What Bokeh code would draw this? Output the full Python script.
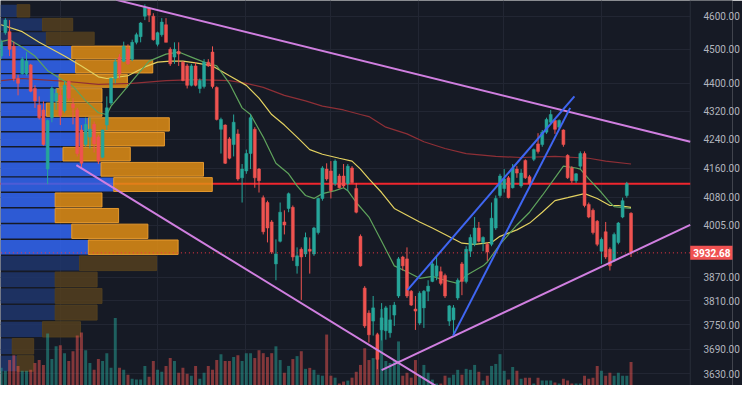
from bokeh.plotting import figure
from bokeh.models import (Range1d, FixedTicker, PrintfTickFormatter, Span, Label,
                          Grid, LinearScale, ColumnDataSource, BoxAnnotation)
from bokeh.embed import file_html
from bokeh.resources import INLINE

# ---------------- data ----------------
opens = [4480,4550,4553,4509,4414,4428,4428,4454,4385,4337,
         4323,4157,4301,4349,4365,4321,4406,4340,4323,4266,
         4225,4246,4282,4246,4190,4280,4343,4414,4477,4465,
         4500,4471,4521,4538,4600,4624,4600,4515,4544,4574,
         4500,4477,4494,4462,4451,4394,4451,4385,4391,4462,
         4492,4388,4268,4280,4241,4225,4255,4133,4152,4200,
         4268,4157,4079,4066,4014,3904,3963,4014,4050,4053,
         3899,3942,3930,3942,3930,3986,4077,4157,4152,4117,
         4138,4138,4117,4160,4104,3976,3842,3779,3759,3725,
         3737,3735,3730,3774,3822,3922,3917,3834,3789,3754,
         3792,3834,3859,3872,3884,3874,3759,3762,3817,3904,
         3859,3937,3955,3998,3960,3955,3955,3998,4085,4104,
         4133,4106,4157,4111,4181,4136,4184,4227,4225,4260,
         4288,4293,4274,4266,4195,4160,4125,4165,4200,4061,
         4045,4016,3937,3988,3942,3912,3960,4027,4085,4037]
highs = [4529,4594,4588,4523,4425,4477,4492,4457,4394,4362,
         4348,4296,4391,4385,4388,4406,4408,4357,4329,4280,
         4301,4301,4290,4252,4268,4362,4417,4471,4486,4523,
         4515,4529,4550,4582,4636,4627,4609,4553,4594,4594,
         4506,4521,4521,4465,4457,4457,4462,4414,4471,4471,
         4509,4391,4301,4282,4246,4310,4268,4171,4211,4310,
         4274,4160,4085,4071,4019,3968,4066,4045,4093,4058,
         3947,3947,3986,3973,4001,4079,4165,4173,4179,4184,
         4144,4171,4171,4165,4119,3981,3847,3786,3822,3730,
         3804,3797,3799,3807,3922,3925,3947,3837,3822,3834,
         3837,3862,3912,3922,3897,3879,3799,3799,3867,3909,
         3950,3981,4027,4014,3976,3960,4066,4085,4144,4157,
         4138,4171,4165,4157,4184,4141,4214,4257,4266,4301,
         4323,4296,4296,4268,4198,4165,4146,4206,4206,4066,
         4050,4019,3973,4014,3947,3986,4014,4079,4122,4040]
lows = [4471,4544,4480,4406,4365,4425,4422,4374,4329,4296,
        4222,4116,4288,4323,4280,4315,4349,4282,4192,4160,
        4219,4214,4203,4171,4187,4266,4337,4400,4414,4462,
        4454,4465,4515,4521,4588,4582,4526,4509,4538,4521,
        4451,4457,4451,4406,4385,4391,4391,4371,4385,4448,
        4385,4293,4200,4171,4184,4192,4125,4066,4144,4157,
        4106,4093,3981,3960,3930,3862,3960,3981,4040,3912,
        3879,3812,3922,3879,3925,3981,4071,4125,4077,4111,
        4104,4106,4098,4117,4037,3897,3742,3706,3723,3641,
        3711,3713,3718,3747,3817,3887,3817,3797,3737,3749,
        3742,3809,3857,3862,3849,3817,3747,3723,3812,3824,
        3854,3922,3950,3960,3937,3912,3950,3993,4079,4093,
        4077,4104,4133,4106,4130,4111,4179,4200,4219,4255,
        4282,4255,4268,4219,4130,4119,4119,4157,4053,4024,
        3981,3950,3904,3917,3887,3909,3955,4024,4079,3922]
closes = [4521,4588,4500,4414,4400,4471,4465,4377,4349,4301,
          4225,4293,4385,4371,4307,4394,4357,4329,4200,4173,
          4282,4268,4227,4179,4266,4329,4414,4463,4428,4509,
          4457,4521,4544,4579,4627,4603,4529,4550,4582,4521,
          4457,4500,4486,4408,4394,4451,4394,4408,4462,4451,
          4391,4296,4296,4173,4187,4288,4130,4157,4200,4301,
          4133,4125,3988,3998,3935,3930,4040,4006,4090,3922,
          3925,3922,3973,3937,3998,4077,4160,4130,4098,4179,
          4106,4111,4165,4120,4040,3899,3747,3725,3792,3665,
          3767,3792,3762,3799,3917,3899,3822,3799,3784,3829,
          3834,3847,3904,3899,3854,3822,3797,3792,3862,3859,
          3942,3973,3998,3963,3973,3935,4024,4077,4138,4130,
          4079,4160,4146,4146,4133,4117,4211,4206,4260,4296,
          4310,4268,4293,4225,4133,4125,4144,4200,4058,4027,
          3986,3955,3968,3922,3899,3981,4011,4071,4117,3932.68]
volumes = [18,15,26,31,20,15,15,16,23,26,
           21,53,27,40,41,33,25,35,51,54,
           36,23,16,27,25,33,18,69,18,16,
           11,7,6,6,20,9,25,16,14,20,
           28,25,13,18,12,10,20,7,13,20,
           16,26,32,25,25,29,31,25,33,33,
           28,36,33,29,33,40,26,13,20,27,
           30,35,17,18,16,11,10,52,10,8,
           2,4,5,8,14,21,38,26,28,53,
           78,25,23,26,45,10,13,8,26,10,
           21,13,6,2,2,10,8,11,16,11,
           17,16,21,14,5,10,20,22,32,15,
           6,19,15,7,8,8,2,8,5,5,
           5,3,2,7,5,2,2,2,10,7,
           8,20,15,10,13,10,13,10,10,24]

# moving averages
ma_fast_idx = [0,2,5,8,11,14,17,20,23,25,26,29,32,35,39,42,45,48,51,54,57,59,62,65,68,70,72,74,76,79,
               81,82,84,87,90,93,96,99,102,105,108,110,114,115,118,122,125,128,131,133,136,137,139,142,144,145,149]
ma_fast = [4523,4529,4506,4480,4437,4414,4391,4349,4315,4310,4334,4377,4422,4465,4486,4492,4477,4462,4451,4400,
           4329,4310,4246,4173,4144,4111,4085,4077,4090,4098,4106,4098,4066,4027,3963,3899,3884,3867,3872,3862,
           3854,3874,3899,3909,3955,4006,4040,4085,4133,4165,4160,4157,4130,4093,4066,4055,4050]
ma_mid_idx = [0,5,9,15,19,23,25,30,34,37,40,43,46,50,54,58,61,64,67,70,73,76,80,83,85,87,90,93,96,99,
              102,105,109,112,116,118,122,125,128,131,134,138,141,144,146,149]
ma_mid = [4574,4553,4521,4480,4451,4419,4414,4422,4448,4462,4465,4465,4460,4451,4422,4394,4357,4310,4280,4246,
          4211,4198,4187,4179,4157,4130,4093,4050,4032,4014,3998,3981,3958,3955,3960,3976,3993,4011,4040,4071,
          4079,4090,4077,4058,4058,4053]
ma_slow_idx = [0,5,9,15,23,31,39,46,54,58,62,67,72,76,81,85,87,91,96,100,105,110,117,123,131,139,143,149]
ma_slow = [4408,4414,4411,4406,4397,4400,4408,4411,4408,4400,4388,4365,4349,4334,4323,4310,4304,4274,4255,4233,
           4214,4200,4192,4189,4192,4187,4179,4171]

# volume profile rows (bottom to top)
vp_low = 3634
vp_row = 41.8
vp_up = [17,12,43,56,56,56,81,90,73,56,56,116,103,64,82,90,47,57,60,77,73,47,43,17]
vp_total = [34,34,82,99,104,99,160,182,151,121,104,217,208,133,168,173,104,104,130,156,133,96,74,30]
vp_value_area = [False]*7 + [True]*14 + [False]*3

# drawings
upper_line_x, upper_line_y = [27.2, 163.0], [4650, 4233]
lower_desc_x, lower_desc_y = [17.8, 103.0], [4168, 3600]
lower_asc_x, lower_asc_y = [90.0, 163.0], [3639, 4006]
blue_a_x, blue_a_y = [96.1, 135.6], [3837, 4362]
blue_b_x, blue_b_y = [106.9, 134.6], [3723, 4329]
resistance = 4117
last_price = closes[-1]

price_ticks = [4600, 4500, 4400, 4320, 4240, 4160, 4080, 4005, 3870, 3810, 3750, 3690, 3630]
time_grid = [14.1, 37.0, 57.7, 77.8, 98.8, 118.9, 142.0]
chart_end = 163.0     # where the price scale column starts

# ---------------- style ----------------
BG = "#161a25"
GRID = "#222633"
UP = "#26a69a"
DOWN = "#ef5350"

n = len(closes)
idx = list(range(n))
col = [UP if c >= o else DOWN for o, c in zip(opens, closes)]
src = ColumnDataSource(dict(
    x=idx, o=opens, h=highs, l=lows, c=closes, v=volumes, col=col,
    top=[max(o, c) for o, c in zip(opens, closes)],
    bot=[min(o, c) for o, c in zip(opens, closes)],
))

p = figure(width=742, height=385, y_axis_type="log", y_axis_location="right",
           x_axis_location=None, x_range=Range1d(-0.15, 173.0),
           y_range=Range1d(3602, 4648), toolbar_location=None,
           output_backend="svg", background_fill_color=BG, border_fill_color=BG,
           outline_line_color=None, min_border_left=0, min_border_top=0,
           min_border_bottom=0, min_border_right=2)

p.extra_y_ranges = {"vol": Range1d(0, 393)}
p.extra_y_scales = {"vol": LinearScale()}
p.extra_x_ranges = {"vp": Range1d(0, 750)}
p.extra_x_scales = {"vp": LinearScale()}

ax = p.yaxis[0]
ax.ticker = FixedTicker(ticks=price_ticks)
ax.formatter = PrintfTickFormatter(format="%.2f")
ax.major_label_text_color = "#b2b5be"
ax.major_label_text_font = "Roboto"
ax.major_label_text_font_size = "10px"
ax.major_tick_line_color = None
ax.minor_tick_line_color = None
ax.axis_line_color = None
ax.major_label_standoff = -35

p.ygrid.ticker = FixedTicker(ticks=price_ticks)
p.ygrid.grid_line_color = GRID
p.xgrid.visible = False
p.add_layout(Grid(dimension=0, ticker=FixedTicker(ticks=time_grid), grid_line_color=GRID))
# price-scale column background and separator
p.add_layout(BoxAnnotation(left=chart_end, fill_color=BG, fill_alpha=1.0,
                           line_color=None, level="underlay"))
p.add_layout(Span(location=chart_end, dimension="height", line_color="#2a2e39",
                  line_width=1, level="underlay"))

# resistance line under profile
p.segment(x0=[-1], y0=[resistance], x1=[chart_end], y1=[resistance],
          line_color="#f0262e", line_width=2)

# volume profile
lo = [vp_low + vp_row * k + 2 for k in range(len(vp_up))]
hi = [vp_low + vp_row * (k + 1) - 2 for k in range(len(vp_up))]
blue_c = ["#3166f3" if va else "#1f366c" for va in vp_value_area]
orng_c = ["#e08e15" if va else "#53401f" for va in vp_value_area]
orng_l = ["#f0a030" if va else "#53401f" for va in vp_value_area]
p.quad(left=[0]*len(vp_up), right=vp_up, bottom=lo, top=hi, x_range_name="vp",
       fill_color=blue_c, fill_alpha=0.85, line_color=None)
p.quad(left=vp_up, right=vp_total, bottom=lo, top=hi, x_range_name="vp",
       fill_color=orng_c, fill_alpha=0.85, line_color=orng_l, line_alpha=0.9, line_width=1)

# volume
p.vbar(x="x", bottom=0, top="v", width=0.7, source=src, y_range_name="vol",
       fill_color="col", line_color=None, fill_alpha=0.5)

# moving averages
p.line(ma_slow_idx, ma_slow, line_color="#8e2f36", line_width=1.2)
p.line(ma_mid_idx, ma_mid, line_color="#e3d160", line_width=1.2)
p.line(ma_fast_idx, ma_fast, line_color="#5fa35c", line_width=1.2)

# candles
p.segment(x0="x", y0="l", x1="x", y1="h", source=src, line_color="col", line_width=1)
p.vbar(x="x", bottom="bot", top="top", width=0.7, source=src,
       fill_color="col", line_color="col", line_width=0.5)

# drawings
for xs, ys in [(upper_line_x, upper_line_y), (lower_desc_x, lower_desc_y),
               (lower_asc_x, lower_asc_y)]:
    p.line(xs, ys, line_color="#d07fe0", line_width=2)
for xs, ys in [(blue_a_x, blue_a_y), (blue_b_x, blue_b_y)]:
    p.line(xs, ys, line_color="#3f66f2", line_width=2)

p.segment(x0=[-1], y0=[last_price], x1=[chart_end], y1=[last_price],
          line_color="#f23645", line_width=1, line_dash="1 3")
p.add_layout(Label(x=chart_end, y=last_price, x_offset=0, text="%.2f" % last_price,
                   text_align="left", text_baseline="middle", text_color="white",
                   text_font="Roboto", text_font_size="10px", text_font_style="bold",
                   background_fill_color="#f05252", padding=3))

open("out.html", "w").write(file_html(p, INLINE))
